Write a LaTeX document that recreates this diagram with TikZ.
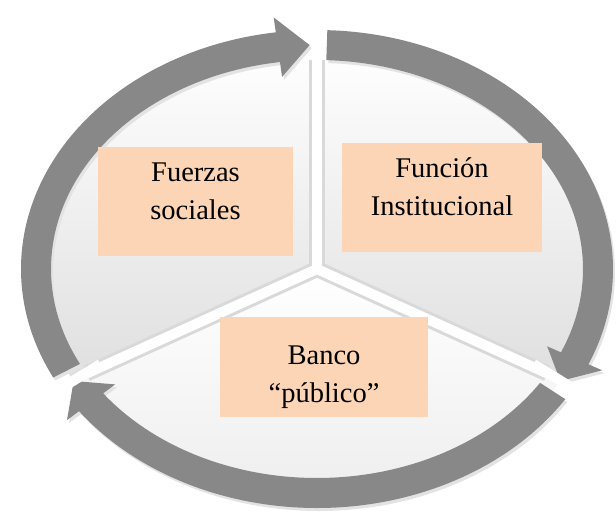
\documentclass[tikz,border=0pt]{standalone}
\usepackage{fontspec}
\setmainfont{Liberation Serif}
\definecolor{peach}{RGB}{251,213,181}
\definecolor{ringgray}{RGB}{136,136,136}

% one arc arrow of the cycle: [style] start angle, tip angle
\newcommand{\ringarrow}[3][ring]{%
  \pgfmathsetmacro{\headang}{#3-6.5}
  \fill[#1] (#2:296 and 239) arc[start angle=#2, end angle=\headang, x radius=296, y radius=239]
    -- (\headang:311 and 254) -- (#3:281 and 224) -- (\headang:251 and 194)
    -- (\headang:266 and 209) arc[start angle=\headang, end angle=#2, x radius=266, y radius=209] -- cycle;}

\begin{document}
\begin{tikzpicture}[x=1pt, y=-1pt,
    box/.style = {fill=peach, inner sep=0pt},
    txt/.style = {align=center, inner sep=0pt, font=\fontsize{28.5}{38}\selectfont},
    ring/.style = {fill=ringgray},
    shadow/.style = {fill=gray!22},
    edge/.style = {draw=gray!30, line width=16pt},
    gap/.style = {draw=white, line width=10pt}]
  \useasboundingbox (0,0) rectangle (616,512);
  \begin{scope}[shift={(317,269)}]
    % wedges
    \shade[top color=white, bottom color=gray!25] (0,0) -- (150:281 and 224)
      arc[start angle=150, end angle=270, x radius=281, y radius=224] -- cycle;
    \shade[top color=white, bottom color=gray!25] (0,0) -- (270:281 and 224)
      arc[start angle=270, end angle=390, x radius=281, y radius=224] -- cycle;
    \shade[top color=white, bottom color=gray!15] (0,0) -- (30:281 and 224)
      arc[start angle=30, end angle=150, x radius=281, y radius=224] -- cycle;
    % dividers
    \coordinate (o) at (0,0);
    \foreach \a in {270,30,150} {
      \draw[edge] (o) -- (\a:266 and 209);
    }
    \foreach \a in {270,30,150} {
      \draw[gap] (o) -- (\a:266 and 209);
    }
    % arrows, with a soft shadow below
    \begin{scope}[shift={(2,3)}]
      \ringarrow[shadow]{153}{268.5}
      \ringarrow[shadow]{272}{390}
      \ringarrow[shadow]{33}{150}
    \end{scope}
    \ringarrow{153}{268.5}
    \ringarrow{272}{390}
    \ringarrow{33}{150}
    \foreach \a in {270,30,150} {
      \draw[gap] (\a:250 and 190) -- (\a:325 and 270);
    }
  \end{scope}

  \node[box, minimum width=195pt, minimum height=109pt] (fuerzas) at (195.5,201.5) {};
  \node[box, minimum width=200pt, minimum height=109pt] (funcion) at (442,197.5) {};
  \node[box, minimum width=208pt, minimum height=100pt] (banco) at (324,367) {};

  \node[txt] (fuerzasTxt) at (195.5,191.5) {Fuerzas\\sociales};
  \node[txt] (funcionTxt) at (442,186.5) {Función\\Institucional};
  \node[txt] (bancoTxt) at (324,377.4) {Banco\\“público”};
\end{tikzpicture}
\end{document}
